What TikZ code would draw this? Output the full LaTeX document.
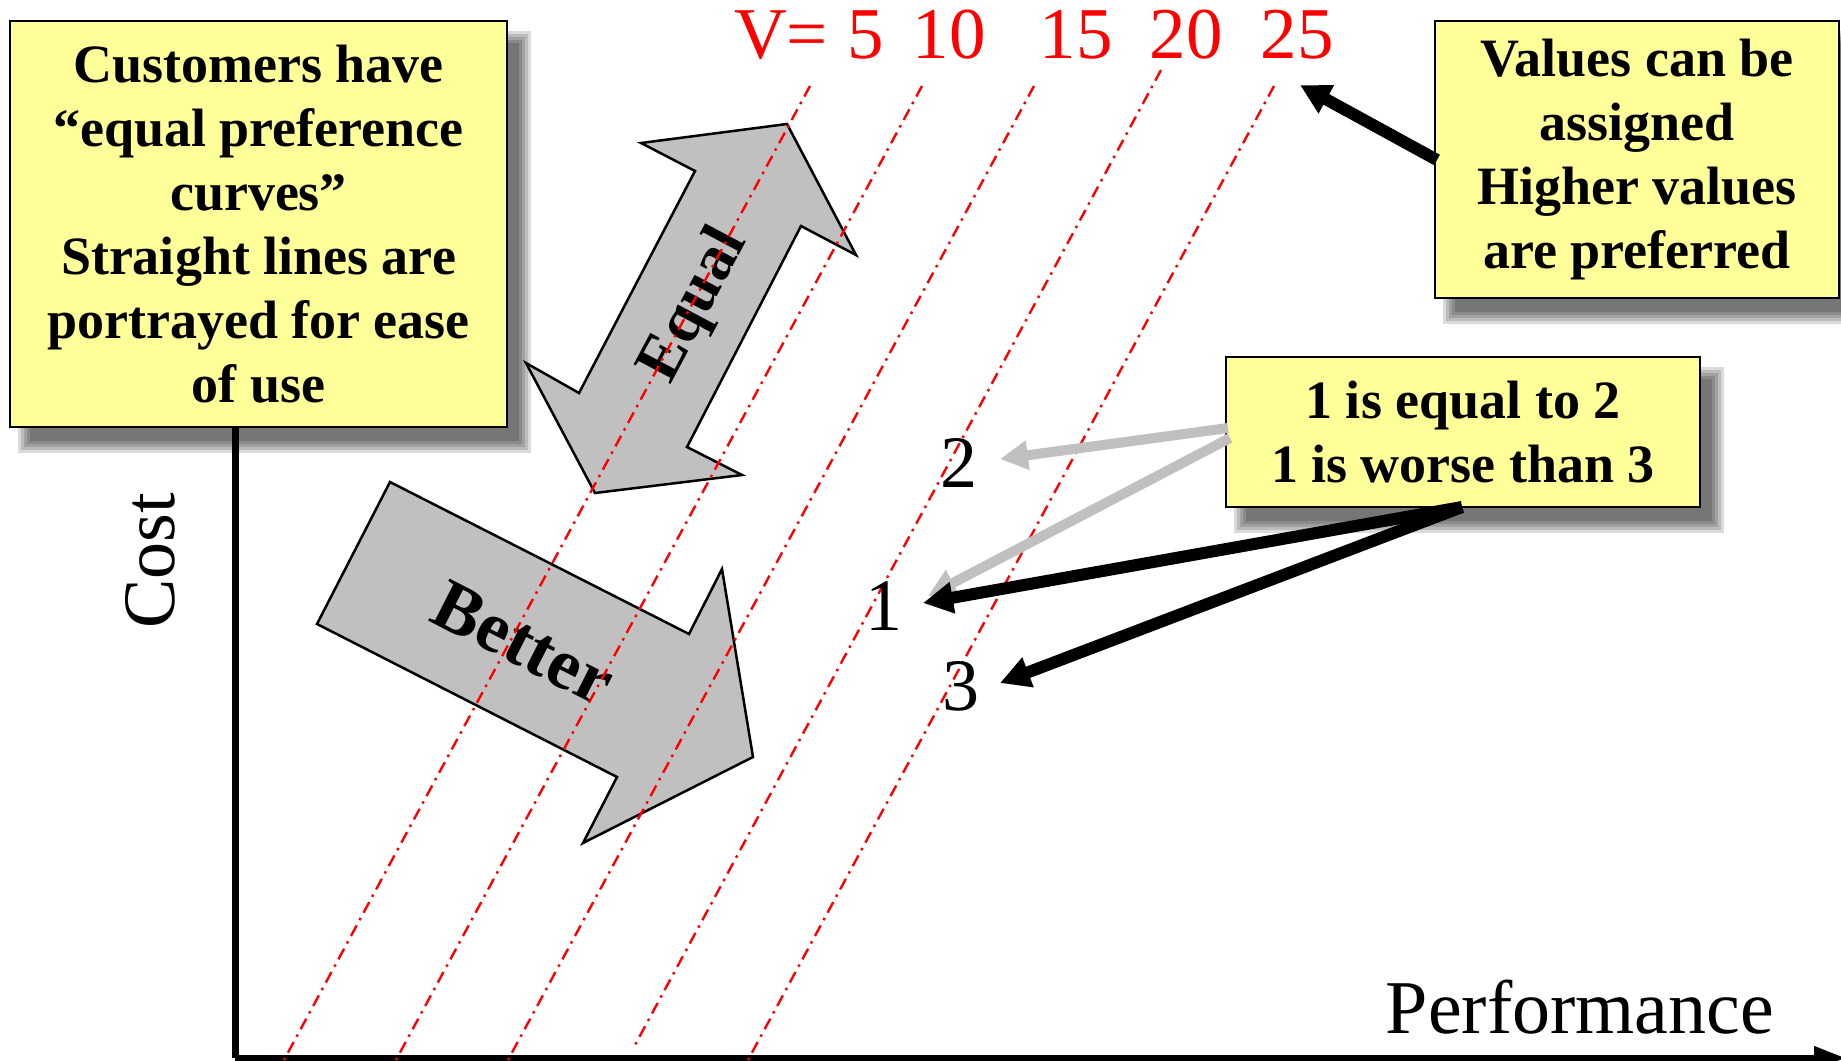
\documentclass[tikz,border=0pt]{standalone}
\usepackage{fontspec}
\setmainfont{Liberation Serif}
\usetikzlibrary{arrows.meta}
\definecolor{boxyellow}{HTML}{FFFF99}
\definecolor{shapegray}{HTML}{C0C0C0}
\definecolor{lightarrow}{HTML}{C0C0C0}
\definecolor{vred}{HTML}{FF0000}
\newcommand\mkshadow[4]{%
  \foreach \r in {8,5,2,-1,-4}{%
    \fill[black,opacity=0.14] ({#1+16-\r},{#2+18-\r}) rectangle ({#3+16+\r},{#4+18+\r});}}
\begin{document}
\begin{tikzpicture}[x=1pt,y=-1pt,
  note/.style={draw=black,line width=2.5pt,fill=boxyellow,align=center,inner sep=0pt,
    font=\fontsize{54}{64}\selectfont\bfseries},
  bigarrow/.style={draw=black,line width=2.5pt,fill=shapegray,line join=miter},
  curve/.style={vred,line width=2.4pt,dash pattern=on 12pt off 6pt on 2.5pt off 6pt},
  vlabel/.style={text=vred,font=\fontsize{73}{73}\selectfont,inner sep=0pt,anchor=base},
  ptlabel/.style={font=\fontsize{74}{74}\selectfont,inner sep=0pt,anchor=base},
  blackarr/.style={draw=black,line width=12pt,-{Triangle[length=30pt,width=30pt]}},
  grayarr/.style={draw=lightarrow,line width=10pt,-{Triangle[length=28pt,width=28pt]}},
  axisline/.style={draw=black,line width=7pt},
]
\useasboundingbox (0,0) rectangle (1841,1060);
\fill[white] (0,0) rectangle (1841,1060);

% shadows
\mkshadow{10}{21}{507}{427}
\mkshadow{1435}{21}{1839}{298}
\mkshadow{1226}{357}{1700}{507}

% axes
\coordinate (ytop) at (235,300);
\coordinate (orig) at (235,1058);
\coordinate (xend) at (1846,1058);
\draw[axisline] (ytop) -- (orig);
\draw[axisline,-{Triangle[length=32pt,width=22pt]}] (orig) -- (xend);

% boxes
\node[note,minimum width=497pt,minimum height=406pt] (boxL) at (258.5,224)
  {Customers have\\“equal preference\\curves”\\Straight lines are\\portrayed for ease\\of use};
\node[note,minimum width=404pt,minimum height=277pt] (boxR) at (1637,159.5)
  {Values can be\\assigned\\Higher values\\are preferred};
\node[note,minimum width=474pt,minimum height=150pt] (boxM) at (1463,432)
  {1 is equal to 2\\1 is worse than 3};

% big arrows
\draw[bigarrow] (787,124) -- (856,255) -- (801,226) -- (687,447) -- (742,475)
  -- (595,493) -- (526,363) -- (579,393) -- (695,171) -- (641,143) -- cycle;
\node[font=\fontsize{64}{64}\selectfont\bfseries,rotate=62,inner sep=0pt] (equaltxt) at (695,306) {Equal};
\draw[bigarrow] (390,482) -- (689,634) -- (722,569) -- (753,757) -- (583,843)
  -- (617,777) -- (317,624) -- cycle;
\node[font=\fontsize{72}{72}\selectfont\bfseries,rotate=-27,inner sep=0pt] (bettertxt) at (524,643) {Better};

% equal preference lines
\coordinate (a1) at (810,86);  \coordinate (b1) at (284,1060);
\coordinate (a2) at (922,86);  \coordinate (b2) at (396,1060);
\coordinate (a3) at (1034,86); \coordinate (b3) at (508,1060);
\coordinate (a4) at (1161,70); \coordinate (b4) at (635,1045);
\coordinate (a5) at (1274,86); \coordinate (b5) at (748,1060);
\foreach \i in {1,...,5} {\draw[curve] (a\i) -- (b\i);}

% value labels
\node[vlabel] (vname) at (781,58) {V=};
\node[vlabel] (v5) at (866,58) {5};
\node[vlabel] (v10) at (949,58) {10};
\node[vlabel] (v15) at (1076,58) {15};
\node[vlabel] (v20) at (1186,58) {20};
\node[vlabel] (v25) at (1297,58) {25};

% points
\node[ptlabel] (lab2) at (959,487) {2};
\node[ptlabel] (lab1) at (884,630) {1};
\node[ptlabel] (lab3) at (961,710) {3};

% axis titles
\node[font=\fontsize{74}{74}\selectfont,rotate=90,inner sep=0pt] (cost) at (150,561) {Cost};
\node[font=\fontsize{76}{76}\selectfont,inner sep=0pt,anchor=base] (perf) at (1580,1033) {Performance};

% connectors
\coordinate (sR) at (1437,160);
\coordinate (t25) at (1300,85);
\draw[blackarr] (sR) -- (t25);

\coordinate (sg2) at (1228,428);
\coordinate (sg1) at (1230,438);
\coordinate (tg2) at (1000,459);
\coordinate (tg1) at (928,596);
\draw[grayarr] (sg2) -- (tg2);
\draw[grayarr] (sg1) -- (tg1);

\coordinate (sb) at (1462,507);
\coordinate (tb1) at (923,603);
\coordinate (tb3) at (1000,683);
\draw[blackarr] (sb) -- (tb1);
\draw[blackarr] (sb) -- (tb3);
\end{tikzpicture}
\end{document}
